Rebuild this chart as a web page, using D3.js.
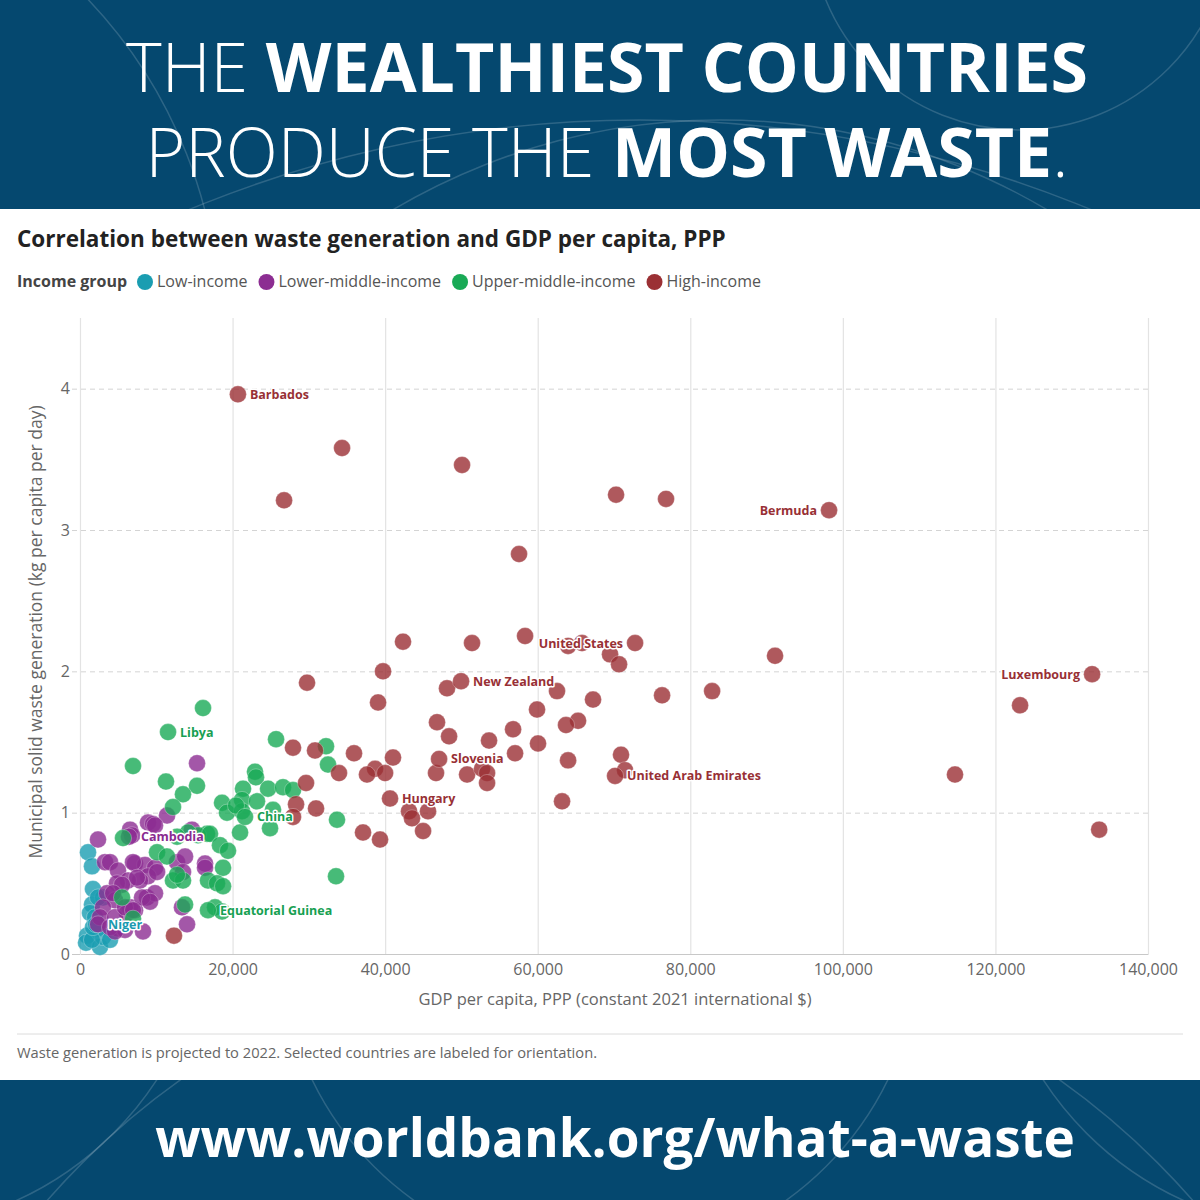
<!DOCTYPE html>
<html>
<head>
<meta charset="utf-8">
<script src="https://cdn.jsdelivr.net/npm/d3@7"></script>
<style>
  body { margin: 0; background: #fff; }
  svg { display: block; font-family: "Open Sans", "Noto Sans", sans-serif; }
</style>
</head>
<body>
<div id="chart"></div>
<script>
// [gdp per capita PPP, waste kg/capita/day, label]
const lowIncome = [
  [1050, 0.72], [1570, 0.62], [1700, 0.46], [1570, 0.35], [1310, 0.29], [1970, 0.26],
  [3020, 0.40], [2230, 0.18], [920, 0.13], [790, 0.08], [2620, 0.05], [3020, 0.12],
  [1570, 0.10], [3930, 0.10], [2360, 0.40], [1700, 0.19], [2100, 0.21, "Niger"]
];
const lowerMiddle = [
  [15340, 1.35], [11410, 0.98], [8910, 0.93], [9570, 0.92], [6560, 0.88], [2360, 0.81],
  [14680, 0.88], [3280, 0.65], [3930, 0.65], [4980, 0.59], [7210, 0.64], [8520, 0.63],
  [9830, 0.61], [12720, 0.65], [13770, 0.69], [16390, 0.64], [16390, 0.61], [8910, 0.55],
  [7870, 0.52], [6290, 0.52], [4850, 0.50], [3540, 0.43], [4590, 0.38], [6560, 0.33],
  [8780, 0.40], [9830, 0.43], [3010, 0.33], [2620, 0.26], [2360, 0.21], [4980, 0.18],
  [5900, 0.17], [8260, 0.16], [14030, 0.21], [13370, 0.33], [3930, 0.19], [6160, 0.29],
  [7210, 0.31], [9830, 0.91], [6820, 0.84], [6950, 0.65], [13500, 0.58], [7470, 0.54],
  [5510, 0.49], [4330, 0.43], [8130, 0.40], [9180, 0.37], [4590, 0.26], [5900, 0.33],
  [6950, 0.31], [4590, 0.16], [10100, 0.58], [6420, 0.83, "Cambodia"]
];
const upperMiddle = [
  [16125, 1.74], [6950, 1.33], [11270, 1.22], [15340, 1.19], [13500, 1.13], [12190, 1.04],
  [25700, 1.52], [32250, 1.47], [32510, 1.34], [22940, 1.29], [23070, 1.25], [21370, 1.17],
  [24650, 1.17], [26610, 1.18], [27920, 1.16], [18620, 1.07], [21240, 1.09], [23200, 1.08],
  [19270, 1.00], [21240, 1.01], [20450, 1.05], [25300, 1.02], [33690, 0.95], [24910, 0.89],
  [20980, 0.86], [33560, 0.55], [16650, 0.85], [15470, 0.84], [14160, 0.86], [17040, 0.85],
  [18350, 0.77], [19400, 0.73], [18750, 0.61], [16780, 0.52], [17960, 0.50], [18750, 0.48],
  [17700, 0.33], [18620, 0.30], [10100, 0.72], [11400, 0.69], [12190, 0.52], [13500, 0.52],
  [13770, 0.35], [5510, 0.40], [6950, 0.25], [5640, 0.82], [12720, 0.83], [12720, 0.56],
  [11540, 1.57, "Libya"], [21630, 0.97, "China"], [16780, 0.31, "Equatorial Guinea"]
];
const highIncome = [
  [34350, 3.58], [26750, 3.21], [50080, 3.46], [70270, 3.25], [76820, 3.22], [57550, 2.83],
  [42340, 2.21], [51390, 2.20], [58340, 2.25], [63980, 2.18], [65810, 2.20], [69480, 2.12],
  [70660, 2.05], [91110, 2.11], [39720, 2.00], [29760, 1.92], [48110, 1.88], [62530, 1.86],
  [67250, 1.80], [76300, 1.83], [82860, 1.86], [59910, 1.73], [39070, 1.78], [123230, 1.76],
  [46800, 1.64], [48380, 1.54], [53620, 1.51], [56770, 1.59], [65290, 1.65], [63710, 1.62],
  [57030, 1.42], [60040, 1.49], [63980, 1.37], [70920, 1.41], [71450, 1.30], [114700, 1.27],
  [133600, 0.88], [63190, 1.08], [46670, 1.28], [50740, 1.27], [52700, 1.31], [53360, 1.28],
  [53360, 1.21], [43130, 1.01], [43520, 0.96], [45620, 1.01], [44970, 0.87], [37100, 0.86],
  [39330, 0.81], [35920, 1.42], [41030, 1.39], [38680, 1.31], [37620, 1.27], [39990, 1.28],
  [33950, 1.28], [27920, 1.46], [30810, 1.44], [29630, 1.21], [28320, 1.06], [27920, 0.97],
  [30940, 1.03], [12320, 0.13],
  [20700, 3.96, "Barbados"], [98190, 3.14, "Bermuda"], [72760, 2.20, "United States"],
  [49950, 1.93, "New Zealand"], [132670, 1.98, "Luxembourg"], [70140, 1.26, "United Arab Emirates"],
  [47070, 1.38, "Slovenia"], [40640, 1.10, "Hungary"]
];

const groupNames = ["Low-income", "Lower-middle-income", "Upper-middle-income", "High-income"];
const groupData = [lowIncome, lowerMiddle, upperMiddle, highIncome];
const groupColors = ["#1a9db1", "#8c2d92", "#19aa56", "#9b3034"];
const labelColors = ["#1a9ab0", "#8a2a90", "#17a052", "#983035"];
const leftLabels = ["Bermuda", "United States", "Luxembourg"];

const xTicks = [0, 20000, 40000, 60000, 80000, 100000, 120000, 140000];
const yTicks = [0, 1, 2, 3, 4];

const W = 1200, H = 1200;
const svg = d3.select("#chart").append("svg").attr("width", W).attr("height", H);

// banners
const blue = "#05486f";
svg.append("rect").attr("x", 0).attr("y", 0).attr("width", W).attr("height", 209).attr("fill", blue);
svg.append("rect").attr("x", 0).attr("y", 1080).attr("width", W).attr("height", 120).attr("fill", blue);

const defs = svg.append("defs");
defs.append("clipPath").attr("id", "topClip").append("rect").attr("width", W).attr("height", 209);
defs.append("clipPath").attr("id", "botClip").append("rect").attr("y", 1080).attr("width", W).attr("height", 120);

const arcStyle = g => g.attr("fill", "none").attr("stroke", "rgba(255,255,255,0.16)").attr("stroke-width", 1.5);
const topArcs = svg.append("g").attr("clip-path", "url(#topClip)");
[[720, 760, 640], [-260, 330, 480], [1020, -80, 210], [640, 1300, 1180]].forEach(c => {
  topArcs.append("circle").attr("cx", c[0]).attr("cy", c[1]).attr("r", c[2]).call(arcStyle);
});
const botArcs = svg.append("g").attr("clip-path", "url(#botClip)");
[[600, 940, 320], [-120, 900, 330], [1320, 900, 330], [620, 1700, 760]].forEach(c => {
  botArcs.append("circle").attr("cx", c[0]).attr("cy", c[1]).attr("r", c[2]).call(arcStyle);
});

const head = svg.append("g").attr("fill", "#fff").attr("text-anchor", "middle")
  .style("font-family", "'Open Sans', sans-serif").style("font-size", "68px");
const l1 = head.append("text").attr("x", 607).attr("y", 92);
l1.append("tspan").attr("font-weight", 300).text("THE ");
l1.append("tspan").attr("font-weight", 700).text("WEALTHIEST COUNTRIES");
const l2 = head.append("text").attr("x", 607).attr("y", 177);
l2.append("tspan").attr("font-weight", 300).text("PRODUCE THE ");
l2.append("tspan").attr("font-weight", 700).text("MOST WASTE");
l2.append("tspan").attr("font-weight", 300).text(".");

svg.append("text")
  .attr("x", 615).attr("y", 1157)
  .attr("text-anchor", "middle")
  .attr("fill", "#fff")
  .style("font-size", "53px")
  .style("font-weight", "700")
  .text("www.worldbank.org/what-a-waste");

// chart title + legend
svg.append("text")
  .attr("x", 17).attr("y", 247)
  .attr("fill", "#222")
  .style("font-size", "22.5px")
  .style("font-weight", "700")
  .text("Correlation between waste generation and GDP per capita, PPP");

const legend = svg.append("g").attr("transform", "translate(17,282)");
legend.append("text").attr("y", 5).attr("fill", "#444")
  .style("font-size", "16px").style("font-weight", "700").text("Income group");
let lx = 120;
groupNames.forEach((name, i) => {
  legend.append("circle").attr("cx", lx + 8).attr("cy", 0).attr("r", 8).attr("fill", groupColors[i]);
  const t = legend.append("text").attr("x", lx + 20).attr("y", 5).attr("fill", "#555")
    .style("font-size", "16px").text(name);
  lx += 20 + t.node().getComputedTextLength() + 11;
});

// plot
const margin = { top: 318, left: 80 };
const plotW = 1068, plotH = 636;
const x = d3.scaleLinear().domain([0, 140000]).range([0, plotW]);
const y = d3.scaleLinear().domain([0, 4.5]).range([plotH, 0]);

const graph = svg.append("g").attr("transform", `translate(${margin.left},${margin.top})`);

// vertical grid
graph.append("g")
  .call(d3.axisBottom(x).tickValues(xTicks).tickSize(plotH).tickFormat(""))
  .call(g => g.select(".domain").remove())
  .call(g => g.selectAll("line").attr("stroke", "#e3e3e3").attr("stroke-width", 1.2));

// horizontal grid
graph.append("g")
  .call(d3.axisLeft(y).tickValues(yTicks.slice(1)).tickSize(-plotW - 8).tickFormat(""))
  .attr("transform", "translate(-8,0)")
  .call(g => g.select(".domain").remove())
  .call(g => g.selectAll("line").attr("stroke", "#d4d4d4").attr("stroke-dasharray", "5,4"));

// x axis
const xAxis = graph.append("g").attr("transform", `translate(0,${plotH})`)
  .call(d3.axisBottom(x).tickValues(xTicks).tickSize(0).tickPadding(10).tickFormat(d3.format(",")));
xAxis.select(".domain").attr("stroke", "#c8c8c8");
xAxis.selectAll("text").attr("fill", "#666").style("font-size", "16px")
  .style("font-family", "'Open Sans', sans-serif");

// y axis
const yAxis = graph.append("g")
  .call(d3.axisLeft(y).tickValues(yTicks).tickSize(0).tickPadding(10).tickFormat(d3.format("d")));
yAxis.select(".domain").remove();
yAxis.selectAll("text").attr("fill", "#666").style("font-size", "16px")
  .style("font-family", "'Open Sans', sans-serif");
yAxis.selectAll(".tick").filter(d => d === 0).append("line")
  .attr("x1", -8).attr("x2", 0).attr("stroke", "#c8c8c8");

// points
groupData.forEach((data, i) => {
  graph.append("g").selectAll("circle")
    .data(data)
    .join("circle")
    .attr("cx", d => x(d[0]))
    .attr("cy", d => y(d[1]))
    .attr("r", 8.5)
    .attr("fill", groupColors[i])
    .attr("fill-opacity", 0.8)
    .attr("stroke", "#fff")
    .attr("stroke-opacity", 0.5)
    .attr("stroke-width", 0.6);
});

// labels
groupData.forEach((data, i) => {
  graph.append("g").selectAll("text")
    .data(data.filter(d => d[2]))
    .join("text")
    .attr("x", d => x(d[0]) + (leftLabels.includes(d[2]) ? -12 : 12))
    .attr("y", d => y(d[1]) + 4.5)
    .attr("text-anchor", d => leftLabels.includes(d[2]) ? "end" : "start")
    .attr("fill", labelColors[i])
    .attr("stroke", "#fff")
    .attr("stroke-width", 3)
    .attr("stroke-linejoin", "round")
    .attr("paint-order", "stroke")
    .style("font-size", "12.5px")
    .style("font-weight", "700")
    .text(d => d[2]);
});

// axis titles
svg.append("text")
  .attr("x", 615).attr("y", 1005)
  .attr("text-anchor", "middle")
  .attr("fill", "#666")
  .style("font-size", "16.5px")
  .text("GDP per capita, PPP (constant 2021 international $)");

svg.append("text")
  .attr("transform", "translate(42,632) rotate(-90)")
  .attr("text-anchor", "middle")
  .attr("fill", "#666")
  .style("font-size", "17.5px")
  .text("Municipal solid waste generation (kg per capita per day)");

// footer
svg.append("line").attr("x1", 17).attr("x2", 1183).attr("y1", 1034).attr("y2", 1034)
  .attr("stroke", "#dcdcdc");
svg.append("text")
  .attr("x", 17).attr("y", 1058)
  .attr("fill", "#666")
  .style("font-size", "14.7px")
  .text("Waste generation is projected to 2022. Selected countries are labeled for orientation.");
</script>
</body>
</html>
